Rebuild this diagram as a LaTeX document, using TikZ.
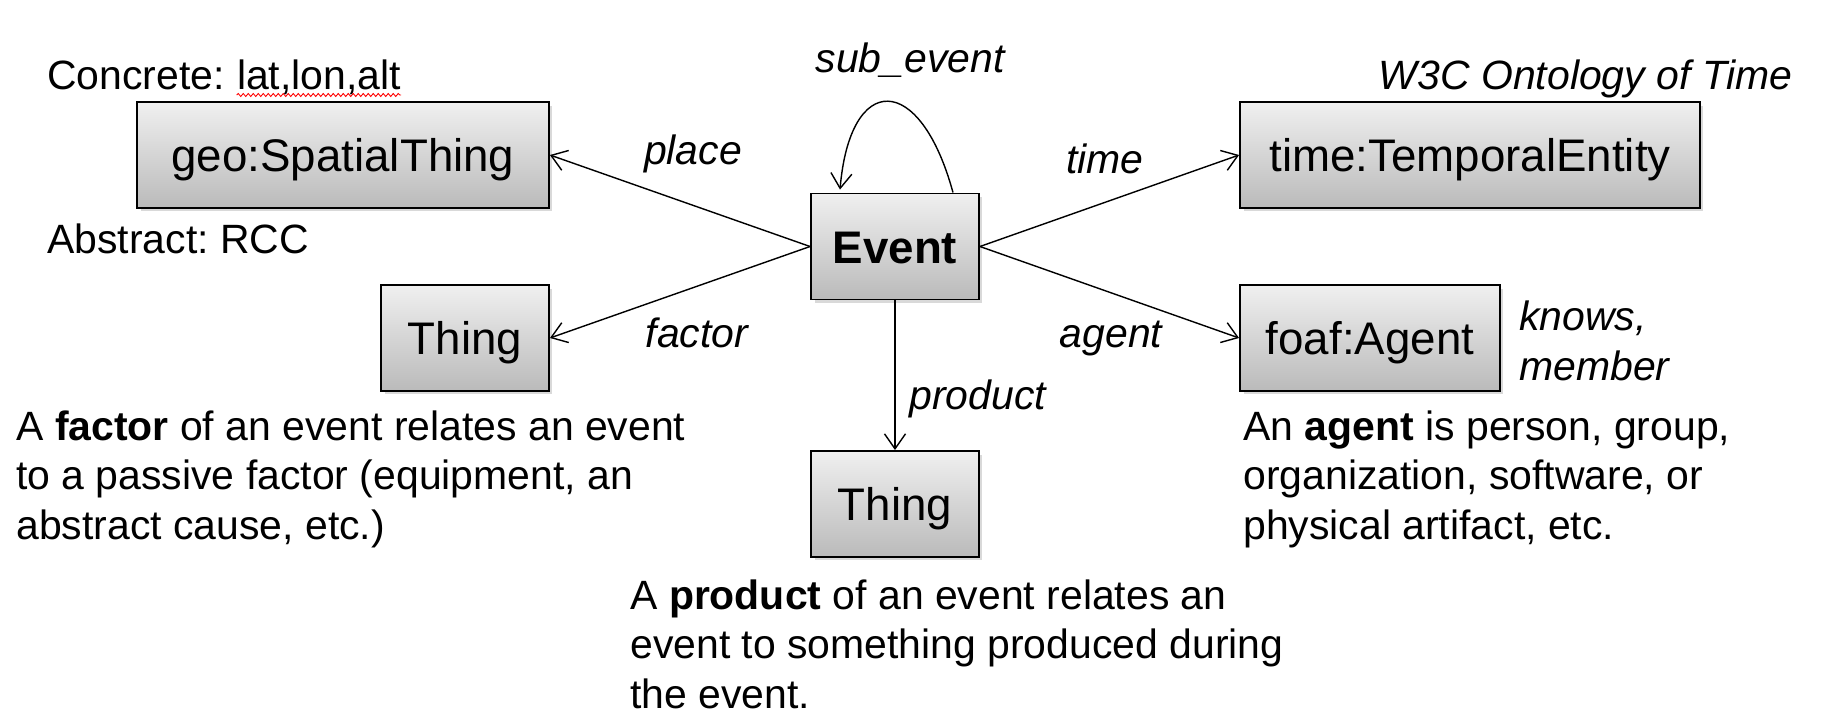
\documentclass[tikz,border=0pt]{standalone}
\usepackage{fontspec}
\setmainfont{Liberation Sans}
\usetikzlibrary{arrows.meta,shadows,decorations.pathmorphing}
\frenchspacing

\begin{document}
\begin{tikzpicture}[
    x=0.02cm, y=-0.02cm,
    cls/.style={draw=black, line width=1.1pt, top color=black!6, bottom color=black!27,
                minimum height=2.12cm, inner sep=0pt, text height=0.66cm, text depth=0pt,
                font=\fontsize{26}{31}\selectfont,
                drop shadow={shadow xshift=0.07cm, shadow yshift=-0.07cm, opacity=0.3}},
    note/.style={inner sep=0pt, align=left, font=\fontsize{23.3}{27.9}\selectfont},
    lbl/.style={inner sep=0pt, font=\fontsize{23.3}{27.9}\selectfont\itshape},
    arrow/.style={draw=black, line width=0.8pt, -{Straight Barb[length=0.3cm, width=0.42cm]}},
]
\useasboundingbox (0,0) rectangle (1832,724);

% Klassen
\node[cls, minimum width=8.24cm] (geo)     at (343,155)   {geo:SpatialThing};
\node[cls, minimum width=3.36cm, font=\fontsize{26}{31}\selectfont\bfseries] (event) at (895,246.5) {Event};
\node[cls, minimum width=9.2cm]  (time)    at (1470,155)  {time:TemporalEntity};
\node[cls, minimum width=3.36cm] (factor)  at (465,338)   {Thing};
\node[cls, minimum width=5.2cm]  (agent)   at (1370,338)  {foaf:Agent};
\node[cls, minimum width=3.36cm] (product) at (895,504)   {Thing};

% Anmerkungen (Basis = letzte Zeile)
\node[note, anchor=base west] (concrete) at (47,89) {Concrete:};
\node[note, anchor=base west] (latlon) at ([xshift=0.23cm]concrete.base east) {lat,lon,alt};
\node[note, anchor=base west] (abstract) at (47,253) {Abstract: RCC};
\node[lbl, anchor=base east] (w3c) at (1793,89) {W3C Ontology of Time};
\node[lbl, anchor=base west, align=left] (knows) at (1519,380) {knows,\\member};

\node[note, anchor=base west] (factornote) at (16,539)
    {A \textbf{factor} of an event relates an event\\to a passive factor (equipment, an\\abstract cause, etc.)};
\node[note, anchor=base west] (agentnote) at (1243,539)
    {An \textbf{agent} is person, group,\\organization, software, or\\physical artifact, etc.};
\node[note, anchor=base west] (productnote) at (630,708)
    {A \textbf{product} of an event relates an\\event to something produced during\\the event.};

% Kantenbeschriftungen
\node[lbl, anchor=base] (subl)   at (910,72)  {sub\_event};
\node[lbl, anchor=base] (placel) at (693,164) {place};
\node[lbl, anchor=base] (timel)  at (1105,173) {time};
\node[lbl, anchor=base] (factl)  at (697,347) {factor};
\node[lbl, anchor=base] (agentl) at (1111,347) {agent};
\node[lbl, anchor=base west] (prodl) at (909,409) {product};

% Kanten
\draw[arrow] (event.west) -- (geo.east);
\draw[arrow] (event.west) -- (factor.east);
\draw[arrow] (event.east) -- (time.west);
\draw[arrow] (event.east) -- (agent.west);
\draw[arrow] (event.south) -- (product.north);
\draw[arrow] ([xshift=1.16cm]event.north) .. controls +(-33,-121) and +(10,-118) .. ([xshift=-1.1cm, yshift=0.06cm]event.north);

% Rechtschreibmarke
\draw[red, line width=0.5pt, decorate, decoration={snake, segment length=0.1cm, amplitude=0.03cm}]
    ([yshift=-0.12cm]latlon.base west) -- ([yshift=-0.12cm]latlon.base east);

\end{tikzpicture}
\end{document}
